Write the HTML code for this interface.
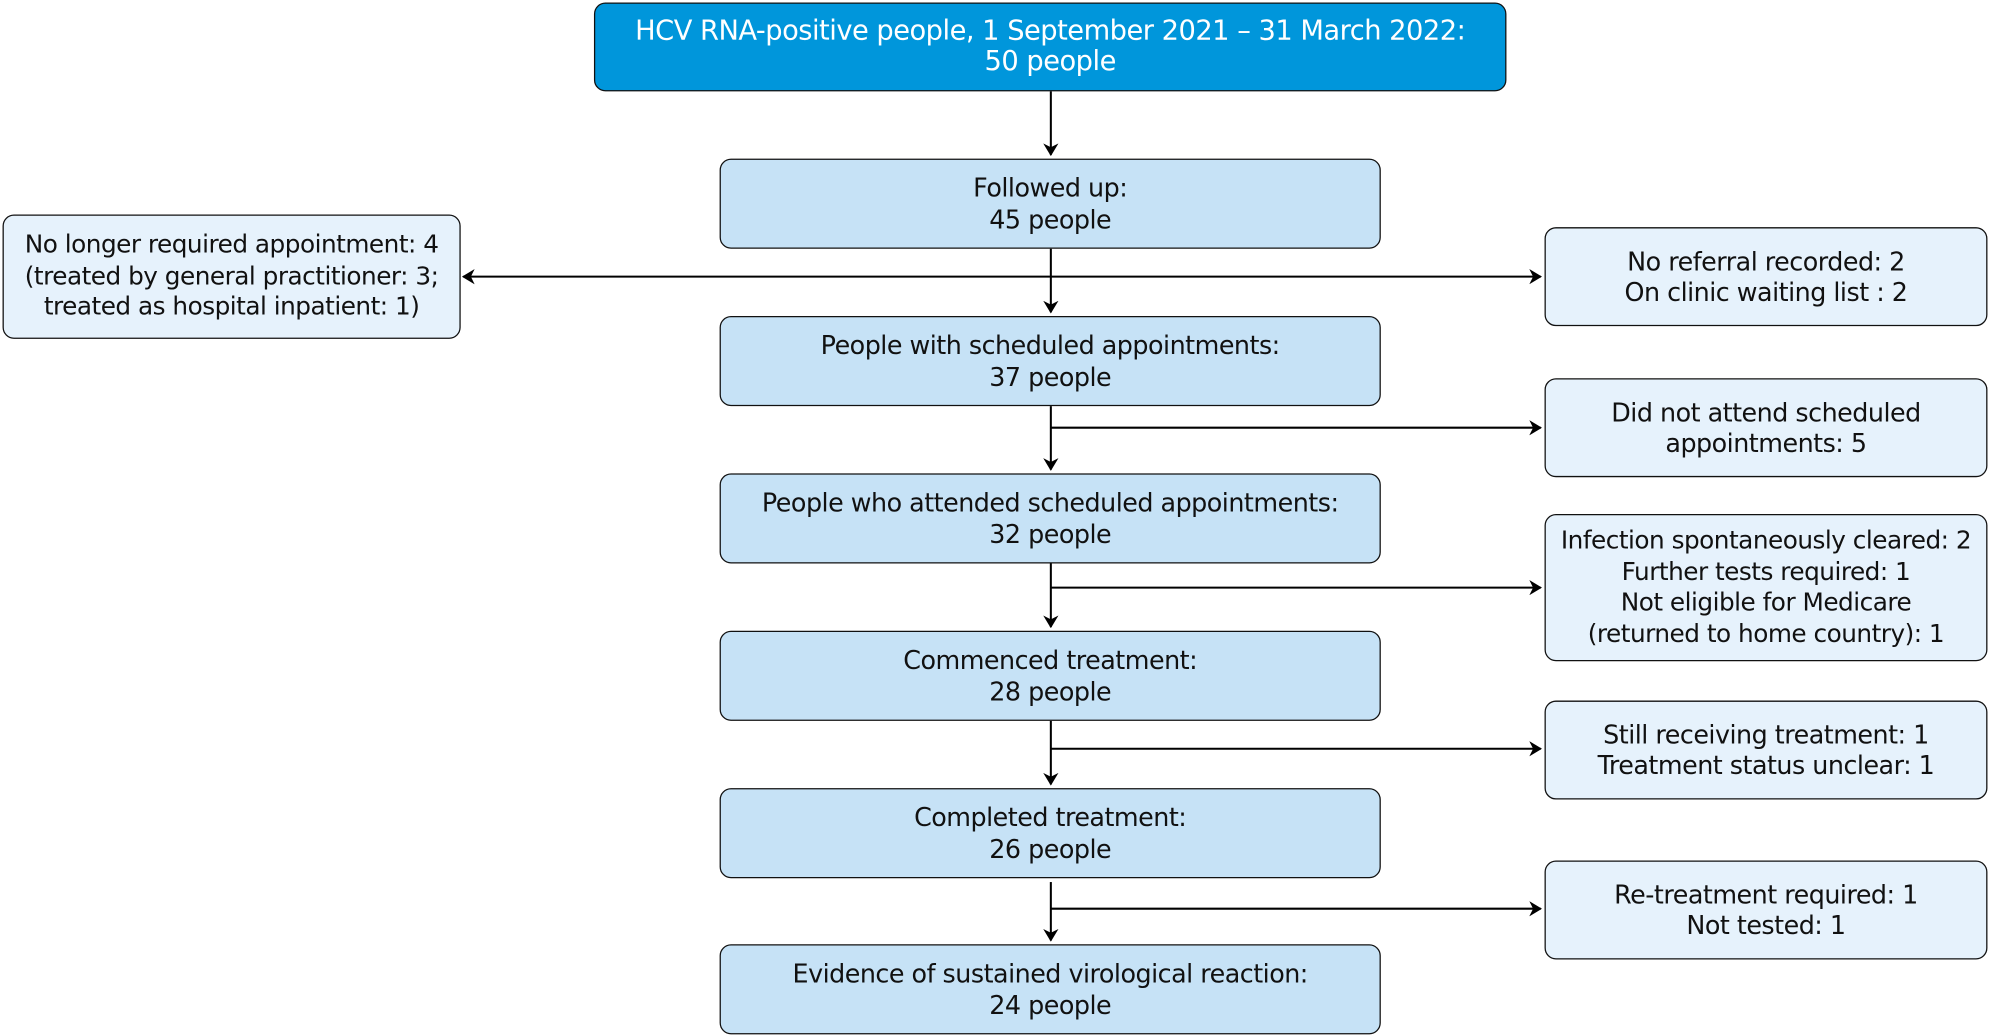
<!DOCTYPE html>
<html><head><meta charset="utf-8"><style>
html,body{margin:0;padding:0;background:#fff;overflow:hidden}
#w{width:1568px;height:816px;position:relative;transform:scale(1.26913);transform-origin:0 0;font-family:"DejaVu Sans","Liberation Sans",sans-serif;}
.b{position:absolute;box-sizing:border-box;border:1.6px solid #111;border-radius:9px;display:flex;align-items:center;justify-content:center;text-align:center;font-size:20px;line-height:24.5px;color:#111;letter-spacing:-0.4px;white-space:nowrap}
.c{background:#c6e2f6;left:567px;width:521px;height:71px}
.r{background:#e6f2fc;left:1217px;width:349px}
svg{position:absolute;left:0;top:0}
</style></head><body><div id="w">
<svg width="1568" height="816"><defs><marker id="a" markerWidth="10" markerHeight="12" refX="9" refY="6" orient="auto" markerUnits="userSpaceOnUse"><path d="M0,0 L10,6 L0,12 L3,6 z" fill="#000"/></marker></defs>
<g stroke="#000" stroke-width="1.6" fill="none">
<line x1="828" y1="72" x2="828" y2="122" marker-end="url(#a)"/>
<line x1="828" y1="196" x2="828" y2="246" marker-end="url(#a)"/>
<line x1="828" y1="320" x2="828" y2="370" marker-end="url(#a)"/>
<line x1="828" y1="444" x2="828" y2="494" marker-end="url(#a)"/>
<line x1="828" y1="568" x2="828" y2="618" marker-end="url(#a)"/>
<line x1="828" y1="695" x2="828" y2="741" marker-end="url(#a)"/>
<line x1="828" y1="218" x2="365" y2="218" marker-end="url(#a)"/>
<line x1="828" y1="218" x2="1214" y2="218" marker-end="url(#a)"/>
<line x1="828" y1="337" x2="1214" y2="337" marker-end="url(#a)"/>
<line x1="828" y1="463" x2="1214" y2="463" marker-end="url(#a)"/>
<line x1="828" y1="590" x2="1214" y2="590" marker-end="url(#a)"/>
<line x1="828" y1="716" x2="1214" y2="716" marker-end="url(#a)"/>
</g></svg>
<div class="b" style="left:468px;top:2px;width:719px;height:70px;background:#0096db;color:#fff;font-size:21.5px">HCV RNA-positive people, 1 September 2021 – 31 March 2022:<br>50 people</div>
<div class="b c" style="top:125px">Followed up:<br>45 people</div>
<div class="b c" style="top:249px">People with scheduled appointments:<br>37 people</div>
<div class="b c" style="top:373px">People who attended scheduled appointments:<br>32 people</div>
<div class="b c" style="top:497px">Commenced treatment:<br>28 people</div>
<div class="b c" style="top:621px">Completed treatment:<br>26 people</div>
<div class="b c" style="top:744px">Evidence of sustained virological reaction:<br>24 people</div>
<div class="b" style="left:2px;top:169px;width:361px;height:98px;background:#e6f2fc;font-size:19.5px">No longer required appointment: 4<br>(treated by general practitioner: 3;<br>treated as hospital inpatient: 1)</div>
<div class="b r" style="top:179px;height:78px">No referral recorded: 2<br>On clinic waiting list : 2</div>
<div class="b r" style="top:298px;height:78px">Did not attend scheduled<br>appointments: 5</div>
<div class="b r" style="top:405px;height:116px;font-size:19.5px">Infection spontaneously cleared: 2<br>Further tests required: 1<br>Not eligible for Medicare<br>(returned to home country): 1</div>
<div class="b r" style="top:552px;height:78px">Still receiving treatment: 1<br>Treatment status unclear: 1</div>
<div class="b r" style="top:678px;height:78px">Re-treatment required: 1<br>Not tested: 1</div>
</div></body></html>
